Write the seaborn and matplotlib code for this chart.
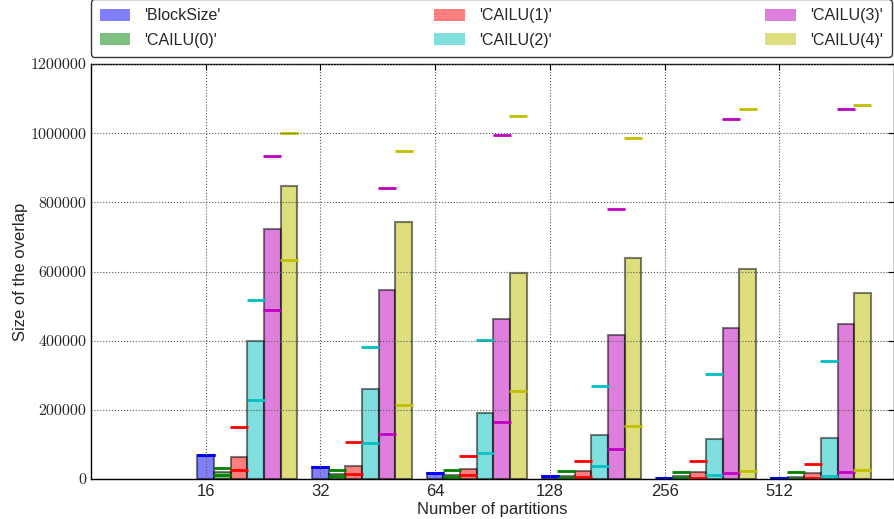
import matplotlib
matplotlib.use('Agg')
import matplotlib.pyplot as plt
import seaborn as sns
import pandas as pd
import numpy as np
from matplotlib.patches import Patch

# categories and series
partitions = ['16', '32', '64', '128', '256', '512']
series = ["'BlockSize'", "'CAILU(0)'", "'CAILU(1)'", "'CAILU(2)'", "'CAILU(3)'", "'CAILU(4)'"]
colors = ['b', 'g', 'r', 'c', 'm', 'y']

# bar heights
mean_blocksize = [68600, 34000, 16400, 7700, 2900, 2900]
mean_cailu0 = [19400, 14500, 11600, 8700, 7700, 6700]
mean_cailu1 = [64600, 37600, 28000, 22000, 19300, 16400]
mean_cailu2 = [398000, 260000, 192000, 127400, 116800, 117700]
mean_cailu3 = [723000, 546000, 463000, 416000, 438000, 449000]
mean_cailu4 = [846000, 742000, 596000, 640000, 606000, 539000]

# upper dashes
max_blocksize = [68600, 34000, 17000, 8000, 3900, 3900]
max_cailu0 = [31000, 25000, 26000, 23000, 20300, 21200]
max_cailu1 = [149700, 107000, 67500, 52000, 51000, 43400]
max_cailu2 = [519000, 383000, 400500, 270000, 304000, 340800]
max_cailu3 = [935000, 841000, 994000, 782000, 1040600, 1070600]
max_cailu4 = [1000000, 948000, 1051000, 986600, 1070600, 1081000]

# lower dashes
min_blocksize = [68600, 34000, 17000, 8000, 3900, 3900]
min_cailu0 = [12500, 7700, 4800, 2900, 1900, 1000]
min_cailu1 = [26000, 14500, 10600, 5800, 3900, 3900]
min_cailu2 = [228800, 104000, 76300, 38600, 11600, 9700]
min_cailu3 = [490000, 131000, 166000, 86900, 17400, 20300]
min_cailu4 = [632000, 215000, 255800, 152600, 23200, 27000]

means = [mean_blocksize, mean_cailu0, mean_cailu1, mean_cailu2, mean_cailu3, mean_cailu4]
maxs = [max_blocksize, max_cailu0, max_cailu1, max_cailu2, max_cailu3, max_cailu4]
mins = [min_blocksize, min_cailu0, min_cailu1, min_cailu2, min_cailu3, min_cailu4]

rows = []
for s, vals in zip(series, means):
    for p, v in zip(partitions, vals):
        rows.append({'partitions': p, 'series': s, 'value': v})
df = pd.DataFrame(rows)

sns.set_style('white')
plt.rcParams['font.family'] = ['Liberation Sans', 'DejaVu Sans']

fig = plt.figure(figsize=(8.95, 5.19), dpi=100)
ax = fig.add_axes([91 / 895, 40 / 519, 803 / 895, 415 / 519])

W = 0.87
sns.barplot(data=df, x='partitions', y='value', hue='series', order=partitions,
            hue_order=series, palette=colors, saturation=1, width=W, alpha=0.5,
            edgecolor='k', linewidth=1.5, errorbar=None, ax=ax)
if ax.get_legend() is not None:
    ax.get_legend().remove()

bw = W / len(series)
centers = np.arange(len(partitions))
for j, (c, hi, lo) in enumerate(zip(colors, maxs, mins)):
    xs = centers - W / 2 + (j + 0.5) * bw
    ax.plot(xs, hi, ls='none', marker='_', ms=13, mew=2, color=c)
    ax.plot(xs, lo, ls='none', marker='_', ms=13, mew=2, color=c)

ticks = centers - W / 2 + 0.5 * bw
ax.set_xticks(ticks)
ax.set_xticklabels(partitions, fontsize=12)
ax.set_xlim(ticks[0] - 1, ticks[-1] + 1)
ax.set_ylim(0, 1200000)
ax.set_yticks(np.arange(0, 1200001, 200000))
ax.set_yticklabels([str(v) for v in range(0, 1200001, 200000)], family='cmr10', fontsize=11.5)

ax.set_axisbelow(False)
ax.grid(True, ls=':', color='0.35', lw=0.8)
ax.tick_params(direction='in', top=True, right=True, length=4, width=0.8, color='k')
for sp in ax.spines.values():
    sp.set_visible(True)
    sp.set_color('k')
    sp.set_linewidth(1)

ax.set_xlabel('Number of partitions', fontsize=12, labelpad=2)
ax.set_ylabel('Size of the overlap', fontsize=12, labelpad=1.5)

handles = [Patch(facecolor=c, edgecolor='none', alpha=0.5) for c in colors]
leg = ax.legend(handles, series, ncol=3, mode='expand', loc='lower left',
                bbox_to_anchor=(0, 1.018, 0.997, 0.13), borderaxespad=0,
                fontsize=11.5, fancybox=True, frameon=True, handlelength=1.9,
                handleheight=0.8, labelspacing=0.6, borderpad=0.55, handletextpad=0.9)
leg.get_frame().set_edgecolor('k')
leg.get_frame().set_linewidth(1)

fig.savefig('out.png', dpi=100)
